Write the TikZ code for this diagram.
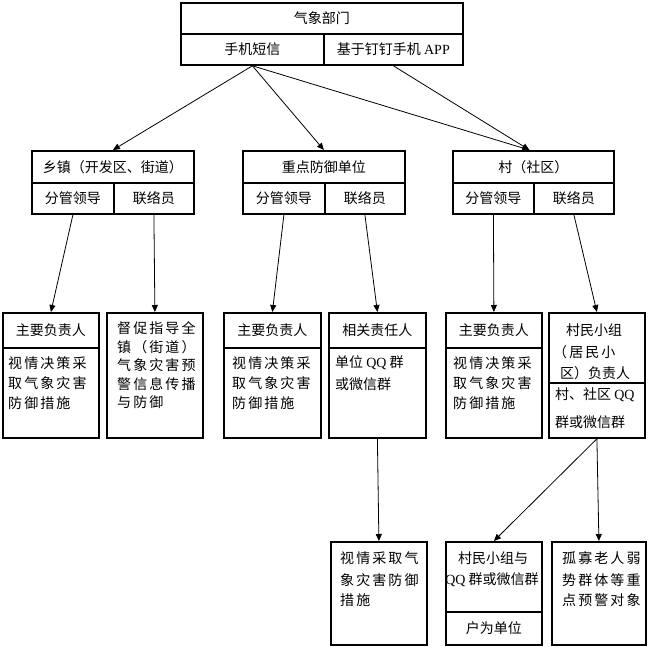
\documentclass[tikz,border=0pt]{standalone}
\usepackage{fontspec}
\setmainfont{Noto Sans CJK SC}
\newfontfamily\lat{Liberation Serif}
\newfontfamily\cjksp[LetterSpace=15]{Noto Sans CJK SC}
\usetikzlibrary{arrows.meta}
\begin{document}
\begin{tikzpicture}[x=1pt,y=-1pt,
  box/.style={draw,line width=1.8pt,inner sep=0pt,anchor=north west,font=\fontsize{14pt}{16pt}\selectfont},
  ln/.style={inner sep=0pt,anchor=west,font=\cjksp\fontsize{14pt}{16pt}\selectfont},
  lnp/.style={inner sep=0pt,anchor=west,font=\fontsize{14pt}{16pt}\selectfont},
  cl/.style={inner sep=0pt,font=\fontsize{14pt}{16pt}\selectfont},
  arr/.style={-{Triangle[length=7pt,width=6pt]},line width=0.8pt}]
\useasboundingbox (0,0) rectangle (648,646);
% top
\node[box,minimum width=282pt,minimum height=31pt] (T1) at (180,2) {气象部门};
\node[box,minimum width=143pt,minimum height=31pt] (T2) at (180,33) {手机短信};
\node[box,minimum width=139pt,minimum height=31pt] (T3) at (323,33) {基于钉钉手机 {\lat APP}};
% row 2
\node[box,minimum width=162pt,minimum height=32pt] (B1) at (31,150) {乡镇（开发区、街道）};
\node[box,minimum width=82pt,minimum height=31pt] (B1a) at (31,182) {分管领导};
\node[box,minimum width=80pt,minimum height=31pt] (B1b) at (113,182) {联络员};
\node[box,minimum width=162pt,minimum height=32pt] (B2) at (242,150) {重点防御单位};
\node[box,minimum width=82pt,minimum height=31pt] (B2a) at (242,182) {分管领导};
\node[box,minimum width=80pt,minimum height=31pt] (B2b) at (324,182) {联络员};
\node[box,minimum width=161pt,minimum height=32pt] (B3) at (452,150) {村（社区）};
\node[box,minimum width=81pt,minimum height=31pt] (B3a) at (452,182) {分管领导};
\node[box,minimum width=80pt,minimum height=31pt] (B3b) at (533,182) {联络员};
% row 3
\node[box,minimum width=96pt,minimum height=35pt] (A) at (2,312) {主要负责人};
\node[box,minimum width=96pt,minimum height=90pt] (Ab) at (2,347) {};
\node[box,minimum width=96pt,minimum height=125pt] (B) at (106,312) {};
\node[box,minimum width=97pt,minimum height=35pt] (C) at (223,312) {主要负责人};
\node[box,minimum width=97pt,minimum height=90pt] (Cb) at (223,347) {};
\node[box,minimum width=97pt,minimum height=35pt] (D) at (328,312) {相关责任人};
\node[box,minimum width=97pt,minimum height=90pt] (Db) at (328,347) {};
\node[box,minimum width=96pt,minimum height=35pt] (E) at (445,312) {主要负责人};
\node[box,minimum width=96pt,minimum height=90pt] (Eb) at (445,347) {};
\node[box,minimum width=96pt,minimum height=70pt] (F) at (548,312) {};
\node[box,minimum width=96pt,minimum height=55pt] (Fb) at (548,382) {};
% row 4
\node[box,minimum width=96pt,minimum height=103pt] (G) at (330,541) {};
\node[box,minimum width=96pt,minimum height=70pt] (H) at (445,541) {};
\node[box,minimum width=96pt,minimum height=33pt] (Hb) at (445,611) {户为单位};
\node[box,minimum width=94pt,minimum height=103pt] (I) at (551,541) {};
% texts
\node[ln] (a1) at (8,363) {视情决策采};
\node[ln] (a2) at (8,383) {取气象灾害};
\node[ln] (a3) at (8,403) {防御措施};
\node[ln] (b1) at (117,328) {督促指导全};
\node[ln] (b2) at (117,347) {镇（街道）};
\node[ln] (b3) at (117,365) {气象灾害预};
\node[ln] (b4) at (117,384) {警信息传播};
\node[ln] (b5) at (117,402) {与防御};
\node[ln] (c1) at (232,363) {视情决策采};
\node[ln] (c2) at (232,383) {取气象灾害};
\node[ln] (c3) at (232,403) {防御措施};
\node[lnp] (d1) at (335,363) {单位 {\lat QQ} 群};
\node[lnp] (d2) at (335,384) {或微信群};
\node[ln] (e1) at (453,363) {视情决策采};
\node[ln] (e2) at (453,383) {取气象灾害};
\node[ln] (e3) at (453,403) {防御措施};
\node[cl] (f1) at (594,330) {村民小组};
\node[ln] (f2) at (553,352) {（居民小};
\node[lnp] (f3) at (560,373) {区）负责人};
\node[lnp] (f4) at (555,395) {村、社区 {\lat QQ}};
\node[lnp] (f5) at (555,422) {群或微信群};
\node[ln] (g1) at (340,558) {视情采取气};
\node[ln] (g2) at (340,580) {象灾害防御};
\node[ln] (g3) at (340,600) {措施};
\node[cl] (h1) at (493,558) {村民小组与};
\node[cl] (h2) at (492,580) {{\lat QQ} 群或微信群};
\node[ln] (i1) at (562,558) {孤寡老人弱};
\node[ln] (i2) at (562,580) {势群体等重};
\node[ln] (i3) at (562,600) {点预警对象};
% arrows
\draw[arr] (T2.south) -- (B1.north);
\draw[arr] (T2.south) -- (B2.north);
\draw[arr] (T2.south) -- ([xshift=-4pt]B3.north);
\draw[arr] (T3.south) -- ([xshift=-4pt]B3.north);
\draw[arr] (B1a.south) -- (A.north);
\draw[arr] (B1b.south) -- (B.north);
\draw[arr] (B2a.south) -- (C.north);
\draw[arr] (B2b.south) -- (D.north);
\draw[arr] (B3a.south) -- (E.north);
\draw[arr] (B3b.south) -- (F.north);
\draw[arr] (Db.south) -- (G.north);
\draw[arr] (Fb.south) -- (H.north);
\draw[arr] (Fb.south) -- (I.north);
\end{tikzpicture}
\end{document}
